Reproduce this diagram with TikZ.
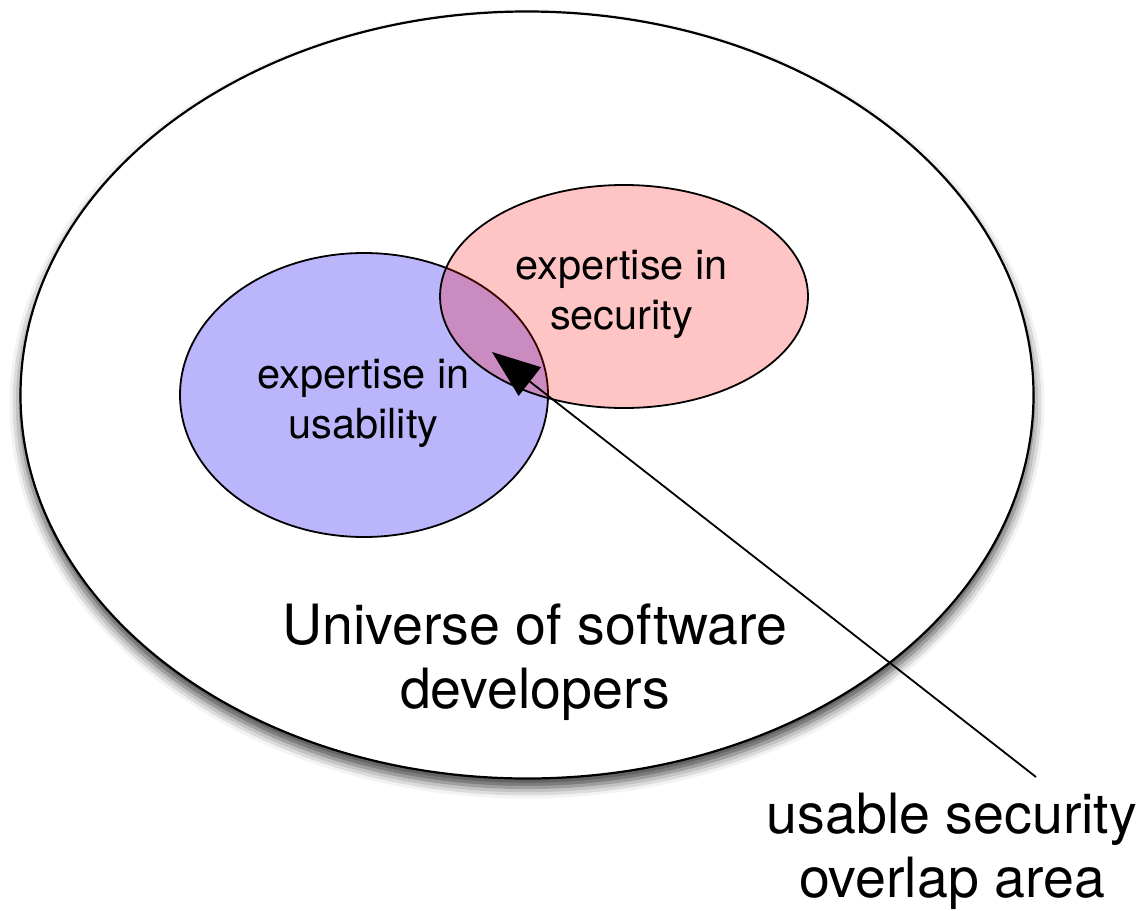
\documentclass[tikz,border=0pt]{standalone}
\usepackage{fontspec}
\setmainfont{TeX Gyre Heros}
\usetikzlibrary{shapes.geometric,arrows.meta,shadows.blur}

\definecolor{usabilityblue}{RGB}{187,182,252}

\begin{document}
\begin{tikzpicture}
	[x=1pt, y=-1pt,
		universe/.style		={ellipse, draw=black, line width=2.2pt, fill=white,
									minimum width=1013pt, minimum height=767pt, inner sep=0pt,
									blur shadow={shadow xshift=0pt, shadow yshift=-9pt,
										shadow blur radius=11pt, shadow opacity=75}},
		expertise/.style	={ellipse, draw=black, line width=1.8pt,
									minimum width=368pt, inner sep=0pt},
		words/.style		={align=center, inner sep=0pt,
									font=\fontsize{41.5}{50}\selectfont},
		bigwords/.style		={align=center, inner sep=0pt,
									font=\fontsize{55.5}{64}\selectfont},
		line/.style			={draw, line width=1.8pt, -{Triangle[length=48pt, width=36pt]}}
	]
\useasboundingbox (0,0) rectangle (1147,910);

% the whole set, with its shadow
\node [universe] (developers) at (527,395) {};

% the two subsets, security laid over usability
\node [expertise, minimum height=284pt, fill=usabilityblue] (usability) at (364,395) {};
\node [expertise, minimum height=223pt, fill=red, fill opacity=0.23] (security) at (624,296.5) {};

% texts
\node [words] (usability text)		at (363.5,403)	{expertise in\\usability};
\node [words] (security text)		at (621.5,294)	{expertise in\\security};
\node [bigwords] (developers text)	at (535,662)	{Universe of software\\developers};
\node [bigwords] (overlap text)		at (952,851)	{usable security\\overlap area};

% pointer into the overlap
\coordinate (overlap)	at (492,352);
\coordinate (pointer)	at (1036,777);
\path [line]	(pointer) -- (overlap);
\end{tikzpicture}
\end{document}
